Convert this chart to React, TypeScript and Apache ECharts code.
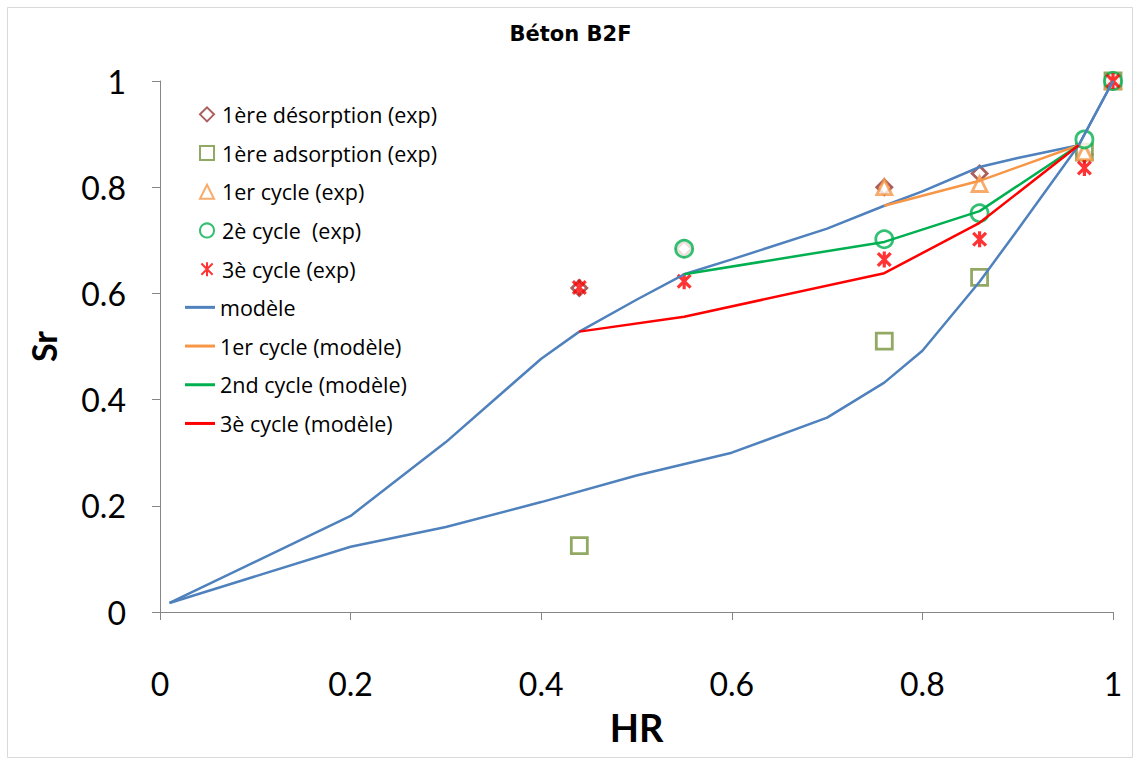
import React, { useEffect, useRef } from "react";
import * as echarts from "echarts";

// ---- Data ----
const TITLE = "Béton B2F";
const X_TICKS = [0, 0.2, 0.4, 0.6, 0.8, 1];

// experimental points
const desorpHR = [0.44, 0.55, 0.76, 0.86, 0.97, 1];
const desorpSr = [0.61, 0.684, 0.8, 0.826, 0.862, 1];

const adsorpHR = [0.44, 0.76, 0.86, 0.97, 1];
const adsorpSr = [0.125, 0.51, 0.63, 0.866, 1];

const cycle1HR = [0.76, 0.86, 0.97, 1];
const cycle1Sr = [0.8, 0.806, 0.866, 1];

const cycle2HR = [0.55, 0.76, 0.86, 0.97, 1];
const cycle2Sr = [0.684, 0.702, 0.751, 0.89, 1];

const cycle3HR = [0.44, 0.55, 0.76, 0.86, 0.97, 1];
const cycle3Sr = [0.611, 0.623, 0.664, 0.702, 0.836, 1];

// model curves
const modelDesHR = [0.01, 0.2, 0.3, 0.4, 0.44, 0.5, 0.55, 0.6, 0.7, 0.76, 0.8, 0.86, 0.9, 0.964, 1];
const modelDesSr = [0.017, 0.181, 0.32, 0.477, 0.528, 0.588, 0.636, 0.664, 0.722, 0.765, 0.792, 0.838, 0.855, 0.879, 1];

const modelAdsHR = [0.01, 0.2, 0.3, 0.4, 0.5, 0.6, 0.7, 0.76, 0.8, 0.86, 0.9, 0.964, 1];
const modelAdsSr = [0.017, 0.123, 0.16, 0.207, 0.257, 0.3, 0.366, 0.432, 0.492, 0.622, 0.72, 0.879, 1];

const mCycle1HR = [0.76, 0.86, 0.964];
const mCycle1Sr = [0.765, 0.812, 0.879];

const mCycle2HR = [0.55, 0.76, 0.86, 0.964];
const mCycle2Sr = [0.636, 0.697, 0.755, 0.879];

const mCycle3HR = [0.44, 0.55, 0.76, 0.86, 0.964];
const mCycle3Sr = [0.528, 0.556, 0.638, 0.733, 0.879];

const EXP_NAMES = [
  "1ère désorption (exp)",
  "1ère adsorption (exp)",
  "1er cycle (exp)",
  "2è cycle  (exp)",
  "3è cycle (exp)",
];
const MODEL_NAMES = ["modèle", "1er cycle (modèle)", "2nd cycle (modèle)", "3è cycle (modèle)"];

const zip = (xs: number[], ys: number[]) => xs.map((x, i) => [x, ys[i]]);

const ASTERISK = "path://M2,2L18,18M18,2L2,18M10,0L10,20";

const FONT = "Lato";
const LEGEND_FONT = "Open Sans";

export default function App() {
  const ref = useRef<HTMLDivElement>(null);

  useEffect(() => {
    if (!ref.current) return;
    const chart = echarts.init(ref.current, null, { renderer: "svg" });

    const scatter = (name: string, data: number[][], symbol: string, size: number, color: string, bw = 2.5) => ({
      type: "scatter",
      name,
      data,
      symbol,
      symbolSize: size,
      symbolKeepAspect: true,
      z: 3,
      itemStyle: { color: symbol.startsWith("path") ? color : "#fff", borderColor: color, borderWidth: bw },
      emphasis: { disabled: true },
    });
    const line = (name: string, data: number[][], color: string) => ({
      type: "line",
      name,
      data,
      symbol: "none",
      z: 4,
      lineStyle: { color, width: 2.5 },
      itemStyle: { color },
      emphasis: { disabled: true },
    });

    const legendText = { fontFamily: LEGEND_FONT, fontSize: 21.5, color: "#000" };

    chart.setOption({
      animation: false,
      backgroundColor: "#fff",
      title: {
        text: TITLE,
        left: "center",
        top: 23,
        padding: 0,
        textStyle: { fontFamily: "DejaVu Sans", fontWeight: "bold", fontSize: 21, color: "#000" },
      },
      graphic: [
        {
          type: "rect",
          shape: { x: 7.5, y: 7.5, width: 1125, height: 750 },
          style: { fill: "none", stroke: "#d9d9d9", lineWidth: 1 },
          silent: true,
        },
      ],
      grid: { left: 160, right: 28, top: 81, bottom: 153 },
      legend: [
        {
          orient: "vertical",
          left: 199,
          top: 101,
          padding: 0,
          itemWidth: 14,
          itemHeight: 14,
          itemGap: 12,
          data: EXP_NAMES,
          textStyle: { ...legendText, padding: [0, 0, 0, 3], lineHeight: 26.7 },
        },
        {
          orient: "vertical",
          left: 185,
          top: 294,
          padding: 0,
          itemWidth: 30,
          itemHeight: 3,
          itemGap: 12,
          data: MODEL_NAMES.map((n) => ({ name: n, icon: "rect" })),
          textStyle: { ...legendText, padding: [0, 0, 0, 0], lineHeight: 26.7 },
        },
      ],
      xAxis: {
        type: "value",
        min: 0,
        max: 1,
        interval: 0.2,
        name: "HR",
        nameLocation: "middle",
        nameGap: 96,
        nameTextStyle: { fontFamily: FONT, fontWeight: "bold", fontSize: 38, color: "#000" },
        axisLine: { lineStyle: { color: "#868686", width: 1 } },
        axisTick: { show: true, length: 8, lineStyle: { color: "#868686" } },
        splitLine: { show: false },
        axisLabel: {
          margin: 55,
          fontFamily: FONT,
          fontSize: 32,
          color: "#000",
          formatter: (v: number) => (X_TICKS.includes(Math.round(v * 10) / 10) ? String(Math.round(v * 10) / 10) : ""),
        },
      },
      yAxis: {
        type: "value",
        min: 0,
        max: 1,
        interval: 0.2,
        name: "Sr",
        nameLocation: "middle",
        nameGap: 100,
        nameTextStyle: { fontFamily: FONT, fontWeight: "bold", fontSize: 34, color: "#000" },
        axisLine: { show: true, lineStyle: { color: "#868686", width: 1 } },
        axisTick: { show: true, length: 8, lineStyle: { color: "#868686" } },
        splitLine: { show: false },
        axisLabel: {
          margin: 34,
          fontFamily: FONT,
          fontSize: 32,
          color: "#000",
          formatter: (v: number) => String(Math.round(v * 10) / 10),
        },
      },
      series: [
        scatter(EXP_NAMES[0], zip(desorpHR, desorpSr), "diamond", 15, "#953735", 2.8),
        scatter(EXP_NAMES[1], zip(adsorpHR, adsorpSr), "rect", 16, "#77933C", 2.8),
        scatter(EXP_NAMES[2], zip(cycle1HR, cycle1Sr), "triangle", 15, "#F79646", 2.8),
        scatter(EXP_NAMES[3], zip(cycle2HR, cycle2Sr), "circle", 17, "#00B050", 2.8),
        scatter(EXP_NAMES[4], zip(cycle3HR, cycle3Sr), ASTERISK, 16, "#FF0000", 3.2),
        line(MODEL_NAMES[0], zip(modelDesHR, modelDesSr), "#4F81BD"),
        line(MODEL_NAMES[0], zip(modelAdsHR, modelAdsSr), "#4F81BD"),
        line(MODEL_NAMES[1], zip(mCycle1HR, mCycle1Sr), "#F79646"),
        line(MODEL_NAMES[2], zip(mCycle2HR, mCycle2Sr), "#00B050"),
        line(MODEL_NAMES[3], zip(mCycle3HR, mCycle3Sr), "#FF0000"),
      ],
    });

    return () => chart.dispose();
  }, []);

  return (
    <div
      ref={ref}
      style={{ position: "fixed", left: 0, top: 0, width: 1141, height: 765 }}
    />
  );
}
